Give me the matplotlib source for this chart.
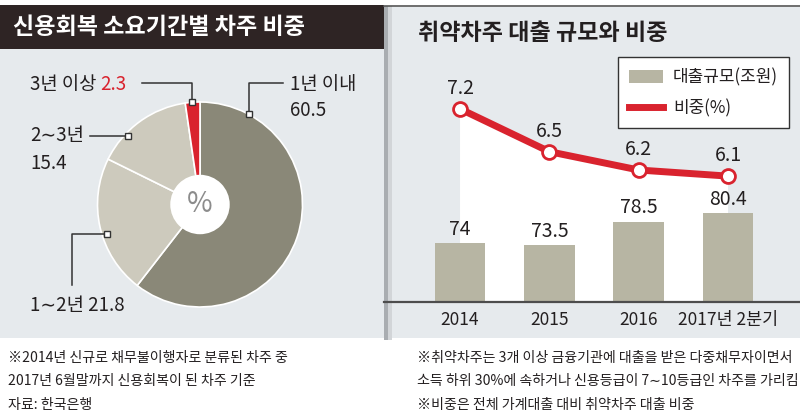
import matplotlib.pyplot as plt
import numpy as np
from matplotlib.patches import Rectangle, Circle, Patch
from matplotlib.lines import Line2D

plt.rcParams['font.family'] = ['Noto Sans CJK KR', 'DejaVu Sans']

# ---- data ----
pie_labels = ['1년 이내', '1∼2년', '2∼3년', '3년 이상']
pie_values = [60.5, 21.8, 15.4, 2.3]

years = ['2014', '2015', '2016', '2017년 2분기']
loan_size = [74, 73.5, 78.5, 80.4]     # 대출규모(조원)
loan_share = [7.2, 6.5, 6.2, 6.1]      # 비중(%)

notes_left = ['※2014년 신규로 채무불이행자로 분류된 차주 중',
              '2017년 6월말까지 신용회복이 된 차주 기준',
              '자료: 한국은행']
notes_right = ['※취약차주는 3개 이상 금융기관에 대출을 받은 다중채무자이면서',
               '소득 하위 30%에 속하거나 신용등급이 7∼10등급인 차주를 가리킴',
               '※비중은 전체 가계대출 대비 취약차주 대출 비중']

# ---- colours ----
bg = '#e6eaed'
dark_bar = '#2e2424'
c_dark = '#8a8878'
c_light = '#cdcabd'
c_bar = '#b7b5a3'
red = '#d9232e'
txt = '#231f20'

W, H = 800, 417
fig = plt.figure(figsize=(8, 4.17), dpi=100)


def fx(x):
    return x / W


def fy(y):
    return 1 - y / H


def rect(x0, y0, x1, y1, color):
    fig.add_artist(Rectangle((fx(x0), fy(y1)), (x1 - x0) / W, (y1 - y0) / H,
                             transform=fig.transFigure, facecolor=color,
                             edgecolor='none', zorder=0))


def add_ax(x0, y0, x1, y1):
    return fig.add_axes([fx(x0), fy(y1), (x1 - x0) / W, (y1 - y0) / H])


# panels
rect(0, 5, 384, 338, bg)
rect(0, 5, 384, 49, dark_bar)
rect(392, 7, 800, 338, bg)
rect(384, 6, 388, 340, '#a9adb1')
rect(388, 6, 392, 340, '#d2d5d8')
fig.add_artist(Line2D([fx(384), 1], [fy(6), fy(6)], color='#555555', lw=1.2,
                      transform=fig.transFigure))

fig.text(fx(13), fy(28), '신용회복 소요기간별 차주 비중', color='white',
         fontsize=16.6, fontweight='bold', va='center')
fig.text(fx(418), fy(34), '취약차주 대출 규모와 비중', color=txt,
         fontsize=16.6, fontweight='bold', va='center')

# ---- pie ----
ax_pie = add_ax(97, 102, 303, 307)
ax_pie.pie(pie_values, colors=[c_dark, c_light, c_light, red], startangle=90,
           counterclock=False, wedgeprops=dict(edgecolor='white', linewidth=1.2))
ax_pie.add_patch(Circle((0, 0), 0.29, facecolor='white', edgecolor='none', zorder=3))
ax_pie.text(0, 0, '%', fontsize=20, color='#8c8c8c', ha='center', va='center',
            fontweight='medium', zorder=4)
ax_pie.set_xlim(-1, 1)
ax_pie.set_ylim(-1, 1)
ax_pie.axis('off')

# annotation layer in pixel coords
ov = add_ax(0, 0, 800, 417)
ov.set_xlim(0, W)
ov.set_ylim(H, 0)
ov.axis('off')
ov.patch.set_visible(False)


def leader(xs, ys):
    ov.plot(xs, ys, color='#333333', lw=1.1, zorder=5)
    ov.plot(xs[0], ys[0], marker='s', ms=5, mfc='white', mec='#333333', mew=1, zorder=6)


leader([249, 249, 283], [114, 83, 83])
leader([192, 192, 142], [102, 83, 83])
leader([128, 90], [136, 136])
leader([107, 72, 72], [234, 234, 285])

fs_pie = 13.5
ov.text(290, 84, pie_labels[0], fontsize=fs_pie, color=txt, va='center')
ov.text(290, 110, f'{pie_values[0]}', fontsize=fs_pie, color=txt, va='center')
t3 = ov.text(30, 84, pie_labels[3] + ' ', fontsize=fs_pie, color=txt, va='center')
ov.annotate(f'{pie_values[3]}', xy=(1, 0), xycoords=t3, va='bottom',
            fontsize=fs_pie, color=red)
ov.text(30, 136, pie_labels[2], fontsize=fs_pie, color=txt, va='center')
ov.text(30, 163, f'{pie_values[2]}', fontsize=fs_pie, color=txt, va='center')
ov.text(30, 305, f'{pie_labels[1]} {pie_values[1]}', fontsize=fs_pie, color=txt, va='center')

# ---- bar + line ----
x = np.arange(len(years))
ax_line = add_ax(384, 60, 800, 302)
ax_line.patch.set_visible(False)
ax_line.set_xlim(-0.851, 3.806)
ax_line.set_ylim(4.04, 8.0)
ax_line.fill_between(x, loan_share, 0, color='white', lw=0, zorder=1)
ax_line.plot(x, loan_share, color=red, lw=5, marker='o', ms=10, mfc='white',
             mec=red, mew=2, zorder=3)
for i, v in enumerate(loan_share):
    ax_line.annotate(f'{v}', (i, v), xytext=(0, 14.5), textcoords='offset points',
                     ha='center', va='center', fontsize=14, color=txt)
for s in ax_line.spines.values():
    s.set_visible(False)
ax_line.set_yticks([])
ax_line.set_xticks(x, years)
ax_line.tick_params(axis='x', length=0, pad=6.5, labelsize=12.5, labelcolor=txt)

ax_bar = ax_line.twinx()
ax_bar.set_ylim(61.4, 113.0)
ax_bar.bar(x, loan_size, width=0.57, color=c_bar, zorder=1)
for i, v in enumerate(loan_size):
    ax_bar.annotate(f'{v}', (i, v), xytext=(0, 10), textcoords='offset points',
                    ha='center', va='center', fontsize=14, color=txt)
for k, s in ax_bar.spines.items():
    s.set_visible(k == 'bottom')
ax_bar.spines['bottom'].set_color('#4d4d4d')
ax_bar.spines['bottom'].set_linewidth(1.6)
ax_bar.set_yticks([])

leg = fig.legend(handles=[Patch(facecolor=c_bar, edgecolor='none'),
                          Line2D([], [], color=red, lw=5)],
                 labels=['대출규모(조원)', '비중(%)'],
                 loc='upper left', bbox_to_anchor=(fx(618), fy(57)),
                 frameon=True, fancybox=False, edgecolor='#333333', framealpha=1,
                 borderaxespad=0, borderpad=0.65, handlelength=2.0, handleheight=0.8,
                 labelspacing=0.75, handletextpad=0.6, fontsize=12.2)
leg.get_frame().set_linewidth(1)
for t in leg.get_texts():
    t.set_color(txt)

# ---- notes ----
for i, line in enumerate(notes_left):
    fig.text(fx(8), fy(358 + 23.5 * i), line, fontsize=10.1, color=txt, va='center')
for i, line in enumerate(notes_right):
    fig.text(fx(417), fy(358 + 23.5 * i), line, fontsize=10.1, color=txt, va='center')

fig.savefig('out.png', dpi=100)
